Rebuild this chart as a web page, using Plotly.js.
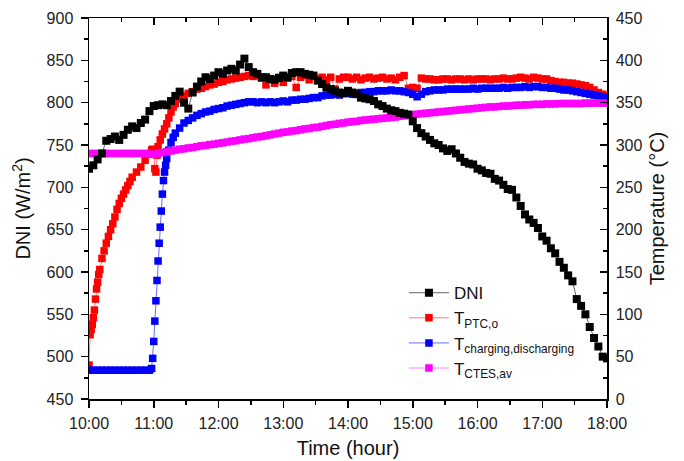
<!DOCTYPE html>
<html>
<head>
<meta charset="utf-8">
<script src="https://cdn.plot.ly/plotly-3.0.1.min.js"></script>
<style>html,body{margin:0;padding:0;background:#fff;}#chart{width:684px;height:461px;}</style>
</head>
<body>
<div id="chart"></div>
<script>
// Time axis: minutes after 10:00
const tickMinutes = [0, 60, 120, 180, 240, 300, 360, 420, 480];
const tickLabels = ['10:00', '11:00', '12:00', '13:00', '14:00', '15:00', '16:00', '17:00', '18:00'];

function stepTimes(from, to, step) { const a = []; for (let t = from; t <= to; t += step) a.push(t); return a; }

// DNI (W/m2), sampled every 4 minutes from 10:00 to 18:00
const dniTime = stepTimes(0, 480, 4);
const dniValues = [
  722,726,733,740,755,757,760,756,762,768,
  772,770,776,780,790,796,797,798,797,802,
  808,813,800,793,812,819,825,830,828,832,
  836,834,838,840,838,845,852,842,836,834,
  830,830,828,827,829,832,830,835,836,836,
  834,833,832,826,822,818,816,814,812,811,
  814,812,810,806,805,804,802,798,796,793,
  791,790,788,787,786,778,770,764,760,756,
  752,750,746,743,745,740,735,730,728,727,
  722,720,717,716,710,708,703,698,697,688,
  678,668,662,658,652,642,637,628,622,612,
  605,596,589,568,560,550,535,522,512,500,
  498
];

// T_PTC,o (°C)
const ptcEarlyTime = [0,1,2,3,4,5,6,7,8,9,10,12,14,16,18,20,22,24,26,28,30,32,34,36,38,40,44,48,52,56,58,59,60,61,62,63,64,66,68,70,72,74,76,78,80,84,88];
const ptcTime = ptcEarlyTime.concat(stepTimes(92, 480, 4));
const ptcValues = [
  40,76,82,88,96,105,118,130,138,147,
  153,166,175,184,192,200,207,215,224,231,
  237,242,247,252,257,262,268,274,282,290,
  294,295,292,272,268,288,298,306,313,319,
  325,332,339,345,349,354,358,
  361,363,366,367,369,371,372,374,375,377,
  378,379,380,381,382,381,382,379,371,378,
  373,380,374,379,381,368,380,382,377,381,
  378,380,377,380,366,378,380,
  380,378,380,377,379,380,378,379,380,378,
  379,377,380,382,367,368,367,379,378,378,
  377,377,378,378,377,378,378,377,378,377,
  378,378,378,377,378,378,379,378,378,379,
  380,379,378,380,379,378,378,376,375,374,
  374,373,373,372,371,370,368,365,362,360,
  358
];

// T_charging,discharging (°C)
const chgEarlyTime = [0,4,8,12,16,20,24,28,32,36,40,44,48,52,56,58,59,60,61,62,63,64,65,66,67,68,69,70,71,72,74,76,78,80,84,88];
const chgTime = chgEarlyTime.concat(stepTimes(92, 480, 4));
const chgValues = [
  34,34,34,34,34,34,34,34,34,34,34,34,34,34,34,
  36,48,68,92,116,140,163,184,203,222,242,258,268,276,284,294,303,309,314,320,326,
  329,332,335,337,339,340,342,343,344,346,
  347,348,349,350,351,351,350,351,350,351,
  350,351,352,351,353,353,354,354,355,356,
  356,358,359,359,360,359,361,361,360,361,
  362,362,363,363,364,364,364,365,364,364,
  363,362,360,357,360,363,364,365,365,365,
  366,366,366,366,366,366,367,366,367,367,
  367,367,367,368,367,368,368,368,369,368,
  369,369,368,368,367,367,366,365,365,364,
  363,362,361,360,359,358,357,356
];

// T_CTES,av (°C), every 4 minutes
const ctesTime = stepTimes(0, 480, 4);
const ctesValues = [
  290,290,290,290,290,290,290,290,290,290,290,290,290,290,289,
  289,290,291,292,293,294,295,295.5,296.5,297,
  298,299,299.5,300.5,301,302,302.5,303.5,304.5,305,
  306,307,307.5,308.5,309.5,310,311,312,313,314,
  315,315.5,316.5,317,318,319,319.5,320.5,321,322,
  323,324,324.5,325.5,326,327,327.5,328,329,329.5,
  330,330.5,331,331.5,332,332.5,333,334,334.5,335,
  335.5,336.5,337,337.5,338,338.5,339,339.5,340,340.5,
  341,341.5,342,342.5,343,343.5,344,344.5,345,345,
  345.5,346,346,346.5,347,347,347.5,347.5,348,348,
  348,348.5,348.5,348.5,349,349,349,349,349,349,
  349.5,349.5,349.5,349.5,349.5,349.5
];

const seriesNames = ['DNI', 'T<sub>PTC,o</sub>', 'T<sub>charging,discharging</sub>', 'T<sub>CTES,av</sub>'];

const FONT = 'Liberation Sans, Arial, Helvetica, sans-serif';
const MS = 7.5;

const traces = [
  {x: dniTime, y: dniValues, name: seriesNames[0], yaxis: 'y2', xaxis: 'x', mode: 'lines+markers', legendrank: 1,
   marker: {symbol: 'square', size: 8, color: '#000'}, line: {color: 'rgba(60,60,60,0.8)', width: 1}},
  {x: ptcTime, y: ptcValues, name: seriesNames[1], yaxis: 'y', xaxis: 'x', mode: 'lines+markers', legendrank: 2,
   marker: {symbol: 'square', size: MS, color: '#ff0000'}, line: {color: 'rgba(255,90,90,0.8)', width: 1}},
  {x: chgTime, y: chgValues, name: seriesNames[2], yaxis: 'y', xaxis: 'x', mode: 'lines+markers', legendrank: 3,
   marker: {symbol: 'square', size: MS, color: '#0000ff'}, line: {color: 'rgba(70,70,255,0.8)', width: 1}},
  {x: ctesTime, y: ctesValues, name: seriesNames[3], yaxis: 'y', xaxis: 'x', mode: 'lines+markers', legendrank: 4,
   marker: {symbol: 'square', size: MS, color: '#ff00ff'}, line: {color: 'rgba(255,100,255,0.8)', width: 1}},
  {x: [], y: [], xaxis: 'x2', yaxis: 'y', showlegend: false, hoverinfo: 'skip', mode: 'markers'}
];

const tickFont = {family: FONT, size: 16, color: '#222'};
const titleFont = {family: FONT, size: 20, color: '#111'};

const layout = {
  width: 684, height: 461,
  margin: {l: 89, r: 77, t: 18, b: 62},
  paper_bgcolor: '#fff', plot_bgcolor: '#fff',
  showlegend: true,
  legend: {x: 0.608, y: 0.325, xanchor: 'left', yanchor: 'top', bgcolor: 'rgba(0,0,0,0)', itemwidth: 40,
           font: {family: FONT, size: 17, color: '#111'}, tracegroupgap: 0},
  xaxis: {range: [0, 480], tickmode: 'array', tickvals: tickMinutes, ticktext: tickLabels,
          ticks: 'outside', ticklen: 7, tickwidth: 1.5, tickcolor: '#000',
          minor: {tickmode: 'linear', tick0: 0, dtick: 30, ticks: 'outside', ticklen: 4, tickwidth: 1.5, tickcolor: '#000'},
          showline: true, linewidth: 1.5, linecolor: '#000', showgrid: false, zeroline: false,
          tickfont: tickFont, ticklabelstandoff: 2, title: {text: 'Time (hour)', font: titleFont, standoff: 10}},
  xaxis2: {range: [0, 480], overlaying: 'x', side: 'top', anchor: 'y', tickmode: 'array', tickvals: tickMinutes,
           ticks: 'inside', ticklen: 7, tickwidth: 1.5, tickcolor: '#000', showticklabels: false,
           minor: {tickmode: 'linear', tick0: 0, dtick: 30, ticks: 'inside', ticklen: 4, tickwidth: 1.5, tickcolor: '#000'},
           showline: true, linewidth: 1.5, linecolor: '#000', showgrid: false, zeroline: false},
  yaxis: {range: [0, 450], side: 'right', tickmode: 'linear', tick0: 0, dtick: 50,
          ticks: 'inside', ticklen: 7, tickwidth: 1.5, tickcolor: '#000',
          minor: {tickmode: 'linear', tick0: 0, dtick: 25, ticks: 'inside', ticklen: 4, tickwidth: 1.5, tickcolor: '#000'},
          showline: true, linewidth: 1.5, linecolor: '#000', showgrid: false, zeroline: false,
          tickfont: tickFont, ticklabelstandoff: 4,
          title: {text: 'Temperature (°C)', font: titleFont, standoff: 8}},
  yaxis2: {range: [450, 900], overlaying: 'y', side: 'left', tickmode: 'linear', tick0: 450, dtick: 50,
           ticks: 'outside', ticklen: 7, tickwidth: 1.5, tickcolor: '#000',
           minor: {tickmode: 'linear', tick0: 450, dtick: 25, ticks: 'outside', ticklen: 4, tickwidth: 1.5, tickcolor: '#000'},
           showline: true, linewidth: 1.5, linecolor: '#000', showgrid: false, zeroline: false,
           tickfont: tickFont, ticklabelstandoff: 4,
           title: {text: 'DNI (W/m<sup>2</sup>)', font: titleFont, standoff: 10}}
};

Plotly.newPlot('chart', traces, layout, {displayModeBar: false, staticPlot: true});
</script>
</body>
</html>
